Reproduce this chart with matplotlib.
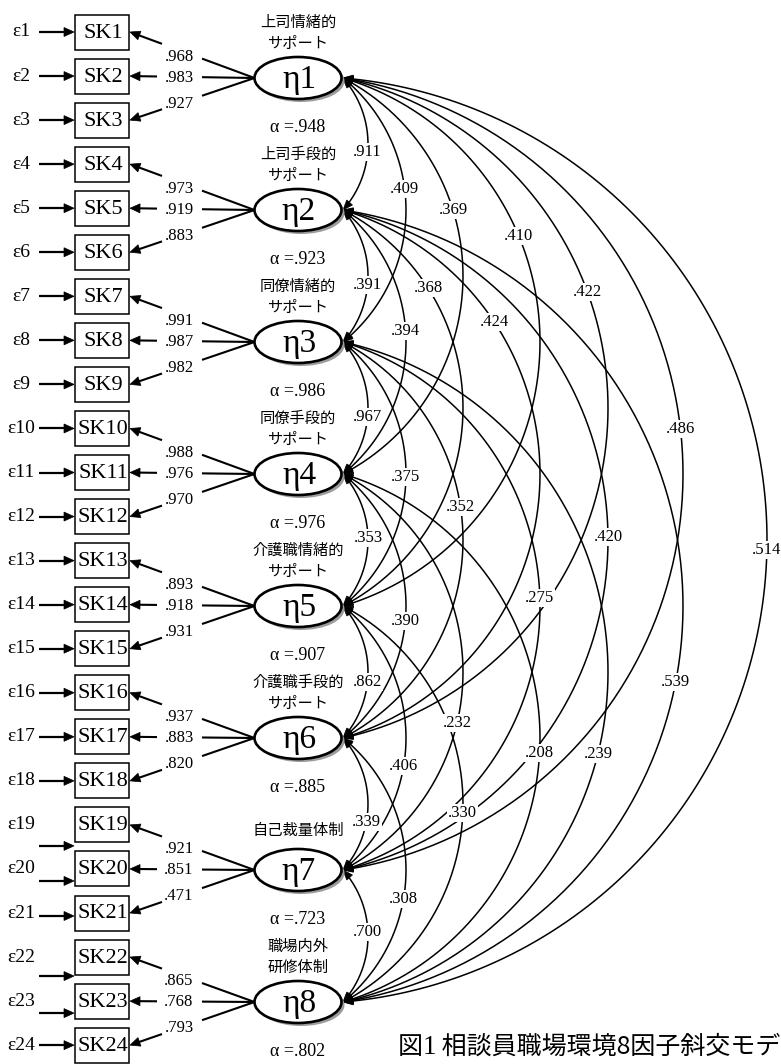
import numpy as np
import matplotlib
matplotlib.use("Agg")
import matplotlib.pyplot as plt
from matplotlib.patches import Ellipse, Rectangle, Polygon

# ---------------------------------------------------------------
# model estimates
# ---------------------------------------------------------------
FACTOR_NAMES = [
    ["上司情緒的", "サポート"],
    ["上司手段的", "サポート"],
    ["同僚情緒的", "サポート"],
    ["同僚手段的", "サポート"],
    ["介護職情緒的", "サポート"],
    ["介護職手段的", "サポート"],
    ["自己裁量体制"],
    ["職場内外", "研修体制"],
]
ALPHAS = [.948, .923, .986, .976, .907, .885, .723, .802]
LOADINGS = [
    [.968, .983, .927],
    [.973, .919, .883],
    [.991, .987, .982],
    [.988, .976, .970],
    [.893, .918, .931],
    [.937, .883, .820],
    [.921, .851, .471],
    [.865, .768, .793],
]
# factor correlations, row i holds r(i, j) for j > i
CORR_ROWS = [
    [.911, .409, .369, .410, .422, .486, .514],
    [.391, .394, .368, .424, .420, .539],
    [.967, .375, .352, .275, .239],
    [.353, .390, .232, .208],
    [.862, .406, .330],
    [.339, .308],
    [.700],
]
# caption pieces: the figure number is set in a serif face
TITLE_PARTS = [("図", "cjk"), ("1", "serif"), (" 相談員職場環境8因子斜交モデ", "cjk")]

# ---------------------------------------------------------------
# layout (pixels, y grows downward)
# ---------------------------------------------------------------
W, H = 781, 1064
ETA_X, ETA_Y0, ETA_STEP = 298, 78, 132
ELL_W, ELL_H = 87, 42
ARC_X = 343                      # where the covariance arrows meet
BOX_L, BOX_R, BOX_H = 75, 129, 35
BOX_Y0, BOX_STEP = 32, 44.05
ARC_BULGE = [25, 63, 120, 197, 265, 340, 424]   # by factor distance
# vertical shift of each correlation label from the arc midpoint
LABEL_DY = [
    [8, -21, -66, -106, -116, -45, 10],
    [9, -11, -120, -152, -3, 76],
    [9, 3, -33, -8, 82],
    [-2, 15, 51, 15],
    [10, 28, 9],
    [18, 29],
    [-4],
]
# the last few error arrows sit a little below their labels
EPS_SHIFT = {18: 21, 19: 12, 20: 3, 21: 19, 22: 12}

SERIF = "Liberation Serif"
CJK = "Noto Sans CJK JP"


def eta_y(k):
    return ETA_Y0 + k * ETA_STEP


def box_y(i):
    return BOX_Y0 + i * BOX_STEP


def fmt(v):
    return f"{v:.3f}".lstrip("0")


def head(ax, tip, u, length=10, half=4.2, z=4):
    """Filled arrowhead with its tip at `tip`, pointing along unit vector u."""
    tx, ty = tip
    ux, uy = u
    nx, ny = -uy, ux
    bx, by = tx - length * ux, ty - length * uy
    pts = [(tx, ty), (bx + half * nx, by + half * ny), (bx - half * nx, by - half * ny)]
    ax.add_patch(Polygon(pts, closed=True, facecolor="black", edgecolor="black",
                         lw=0.5, zorder=z))


def arrow(ax, p0, p1, lw=1.5, length=10, half=4.2):
    x0, y0 = p0
    x1, y1 = p1
    d = np.hypot(x1 - x0, y1 - y0)
    ux, uy = (x1 - x0) / d, (y1 - y0) / d
    ax.plot([x0, x1 - ux * length * 0.8], [y0, y1 - uy * length * 0.8],
            color="black", lw=lw, solid_capstyle="butt", zorder=3)
    head(ax, (x1, y1), (ux, uy), length, half)


fig = plt.figure(figsize=(W / 100, H / 100), dpi=100)
ax = fig.add_axes([0, 0, 1, 1])
ax.set_xlim(0, W)
ax.set_ylim(H, 0)
ax.axis("off")

# ---- observed variables and their error terms ----
for i in range(24):
    by = box_y(i)
    ax.add_patch(Rectangle((BOX_L, by - BOX_H / 2), BOX_R - BOX_L, BOX_H,
                           facecolor="white", edgecolor="black", lw=1.1, zorder=3))
    ax.text((BOX_L + BOX_R) / 2 + 1, by + 1, f"SK{i + 1}", family=SERIF, fontsize=16,
            ha="center", va="center", zorder=4)
    ax.text(21, by, f"ε{i + 1}", family=SERIF, fontsize=14,
            ha="center", va="center")
    ay = by + EPS_SHIFT.get(i, 0)
    arrow(ax, (39, ay), (BOX_L - 1, ay), lw=1.6, length=10, half=4.5)

# ---- latent factors and loadings ----
for k in range(8):
    ey = eta_y(k)
    ax.add_patch(Ellipse((ETA_X + 3, ey + 3), ELL_W, ELL_H, facecolor="#9c9c9c",
                         edgecolor="none", zorder=4))
    ax.add_patch(Ellipse((ETA_X, ey), ELL_W, ELL_H, facecolor="white",
                         edgecolor="black", lw=1.9, zorder=5))
    ax.text(ETA_X + 1, ey + 2, f"η{k + 1}", family=SERIF, fontsize=24,
            ha="center", va="center", zorder=6)

    names = FACTOR_NAMES[k]
    rows = [-40] if len(names) == 1 else [-56, -35]
    for name, dy in zip(names, rows):
        ax.text(ETA_X, ey + dy, name, family=CJK, fontsize=11,
                ha="center", va="center")
    ax.text(ETA_X, ey + 50, f"α ={fmt(ALPHAS[k])}", family=SERIF, fontsize=13,
            ha="center", va="center")

    x_ell = ETA_X - ELL_W / 2
    for j in range(3):
        by = box_y(3 * k + j)
        slope = (by - ey) / (BOX_R + 1 - x_ell)
        line_y = lambda x: ey + (x - x_ell) * slope
        ax.plot([x_ell, 202], [ey, line_y(202)], color="black", lw=1.5,
                solid_capstyle="butt", zorder=3)
        xs = 157 if j == 1 else 162
        arrow(ax, (xs, line_y(xs)), (BOX_R + 1, by), lw=1.5, length=10, half=4.5)
        ax.text(179, ey + [-21, 0, 26][j], fmt(LOADINGS[k][j]), family=SERIF,
                fontsize=12, ha="center", va="center")

# ---- factor covariances as circular arcs ----
for a in range(len(CORR_ROWS)):
    for off, r_val in enumerate(CORR_ROWS[a]):
        b = a + off + 1
        y1, y2 = eta_y(a), eta_y(b)
        c = (y2 - y1) / 2
        ym = (y1 + y2) / 2
        s = ARC_BULGE[b - a - 1]
        rad = (c ** 2 + s ** 2) / (2 * s)
        xc = ARC_X + s - rad
        th = np.arctan2(c, ARC_X - xc)
        trim = 8 / rad
        t = np.linspace(-th + trim, th - trim, 300)
        ax.plot(xc + rad * np.cos(t), ym + rad * np.sin(t), color="black",
                lw=1.1, zorder=2)
        # arrowheads pointing into both factors
        head(ax, (ARC_X, y1), (-np.sin(th), -np.cos(th)), length=10, half=3.8, z=3)
        head(ax, (ARC_X, y2), (-np.sin(th), np.cos(th)), length=10, half=3.8, z=3)

        dy = LABEL_DY[a][off]
        lx = xc + np.sqrt(rad ** 2 - dy ** 2)
        ax.text(lx, ym + dy, fmt(r_val), family=SERIF, fontsize=12,
                ha="center", va="center", zorder=7,
                bbox=dict(boxstyle="square,pad=0.05", facecolor="white",
                          edgecolor="none"))

# ---- caption, pieces laid end to end ----
renderer = fig.canvas.get_renderer()
x = 398
for piece, face in TITLE_PARTS:
    fam = [SERIF] if face == "serif" else [CJK]
    size = 19.5 if face == "serif" else 18
    txt = ax.text(x, 1047, piece, family=fam, fontsize=size, ha="left", va="center")
    bb = txt.get_window_extent(renderer)
    x += bb.width * 100 / fig.dpi

fig.savefig("out.png", dpi=100)
